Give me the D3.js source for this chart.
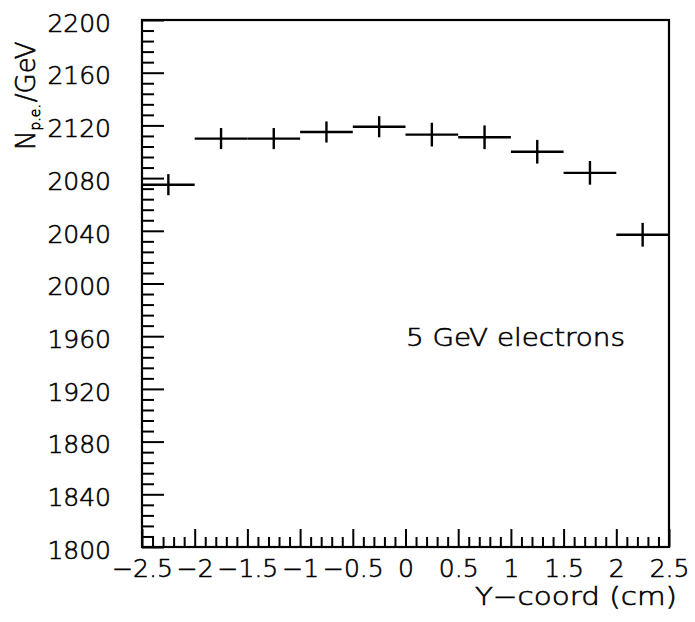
<!DOCTYPE html>
<html>
<head>
<meta charset="utf-8">
<script src="https://cdn.jsdelivr.net/npm/d3@7"></script>
<style>
  html, body { margin: 0; padding: 0; background: #fff; }
  svg { display: block; }
  text { font-family: "DejaVu Sans", sans-serif; font-weight: 200; fill: #000; stroke: #000; stroke-width: 0.6px; }
</style>
</head>
<body>
<svg id="chart" width="695" height="622"></svg>
<script>
// Photoelectron yield per GeV across the transverse coordinate
const binCenters = [-2.25, -1.75, -1.25, -0.75, -0.25, 0.25, 0.75, 1.25, 1.75, 2.25];
const binHalfWidth = 0.25;
const yields = [2075, 2110, 2110, 2115, 2119, 2113, 2111, 2100, 2084, 2037];
const yieldErrors = [8, 8, 8, 8, 8, 9, 9, 9, 9, 9];

const xTickValues = [-2.5, -2, -1.5, -1, -0.5, 0, 0.5, 1, 1.5, 2, 2.5];
const xTickLabels = ["\u22122.5", "\u22122", "\u22121.5", "\u22121", "\u22120.5", "0", "0.5", "1", "1.5", "2", "2.5"];
const yTickValues = [1800, 1840, 1880, 1920, 1960, 2000, 2040, 2080, 2120, 2160, 2200];
const yTickLabels = ["1800", "1840", "1880", "1920", "1960", "2000", "2040", "2080", "2120", "2160", "2200"];

const svg = d3.select("#chart");
const plotLeft = 142, plotRight = 669, plotTop = 20, plotBottom = 547;

const x = d3.scaleLinear().domain([-2.5, 2.5]).range([plotLeft, plotRight]);
const y = d3.scaleLinear().domain([1800, 2200]).range([plotBottom, plotTop]);

// minor tick positions: 5 subdivisions between labelled ticks
const xMinor = d3.range(-25, 26).map(i => i / 10).filter(v => Math.abs(v * 2 - Math.round(v * 2)) > 1e-6);
const yMinor = d3.range(1800, 2201, 8).filter(v => v % 40 !== 0);

function styleAxis(g) {
  g.select(".domain").remove();
  g.selectAll(".tick line").attr("stroke", "#000").attr("stroke-width", 2);
}

function styleLabels(g) {
  g.selectAll(".tick text")
    .attr("font-size", 25)
    .attr("font-family", "DejaVu Sans, sans-serif")
    .attr("font-weight", 200)
    .attr("stroke", "#000")
    .attr("stroke-width", 0.6);
}

// y axis, ticks pointing into the plot
svg.append("g")
  .attr("transform", `translate(${plotLeft},0)`)
  .call(d3.axisLeft(y).tickValues(yMinor).tickSize(-12).tickFormat(""))
  .call(styleAxis);

svg.append("g")
  .attr("transform", `translate(${plotLeft},0)`)
  .call(d3.axisLeft(y).tickValues(yTickValues).tickSize(-22).tickPadding(31)
    .tickFormat((d, i) => yTickLabels[i]))
  .call(styleAxis)
  .call(styleLabels)
  .call(g => g.selectAll(".tick text").attr("dy", "0.45em"));

// x axis
svg.append("g")
  .attr("transform", `translate(0,${plotBottom})`)
  .call(d3.axisBottom(x).tickValues(xMinor).tickSize(-10).tickFormat(""))
  .call(styleAxis);

svg.append("g")
  .attr("transform", `translate(0,${plotBottom})`)
  .call(d3.axisBottom(x).tickValues(xTickValues).tickSize(-18).tickPadding(12)
    .tickFormat((d, i) => xTickLabels[i]))
  .call(styleAxis)
  .call(styleLabels);

// frame
svg.append("rect")
  .attr("x", plotLeft).attr("y", plotTop)
  .attr("width", plotRight - plotLeft).attr("height", plotBottom - plotTop)
  .attr("fill", "none").attr("stroke", "#000").attr("stroke-width", 2.2);

// data: horizontal bar spans the bin, vertical bar is the error
const pts = svg.append("g").attr("stroke", "#000").attr("stroke-width", 2.4);
binCenters.forEach((c, i) => {
  pts.append("line")
    .attr("x1", x(c - binHalfWidth)).attr("x2", x(c + binHalfWidth))
    .attr("y1", y(yields[i])).attr("y2", y(yields[i]));
  pts.append("line")
    .attr("x1", x(c)).attr("x2", x(c))
    .attr("y1", y(yields[i] - yieldErrors[i])).attr("y2", y(yields[i] + yieldErrors[i]));
});

// annotation
svg.append("text")
  .attr("x", 406).attr("y", 346)
  .attr("font-size", 25)
  .attr("textLength", 219).attr("lengthAdjust", "spacingAndGlyphs")
  .text("5 GeV electrons");

// axis titles
svg.append("text")
  .attr("x", 677).attr("y", 605)
  .attr("text-anchor", "end")
  .attr("font-size", 25)
  .attr("textLength", 202).attr("lengthAdjust", "spacingAndGlyphs")
  .text("Y\u2212coord (cm)");

const yTitle = svg.append("text")
  .attr("transform", "translate(35,150) rotate(-90)")
  .attr("font-size", 26);
yTitle.append("tspan").text("N");
yTitle.append("tspan").attr("font-size", 14).attr("dy", 5).text("p.e.");
yTitle.append("tspan").attr("dy", -5).attr("dx", 2).text("/GeV");
</script>
</body>
</html>
